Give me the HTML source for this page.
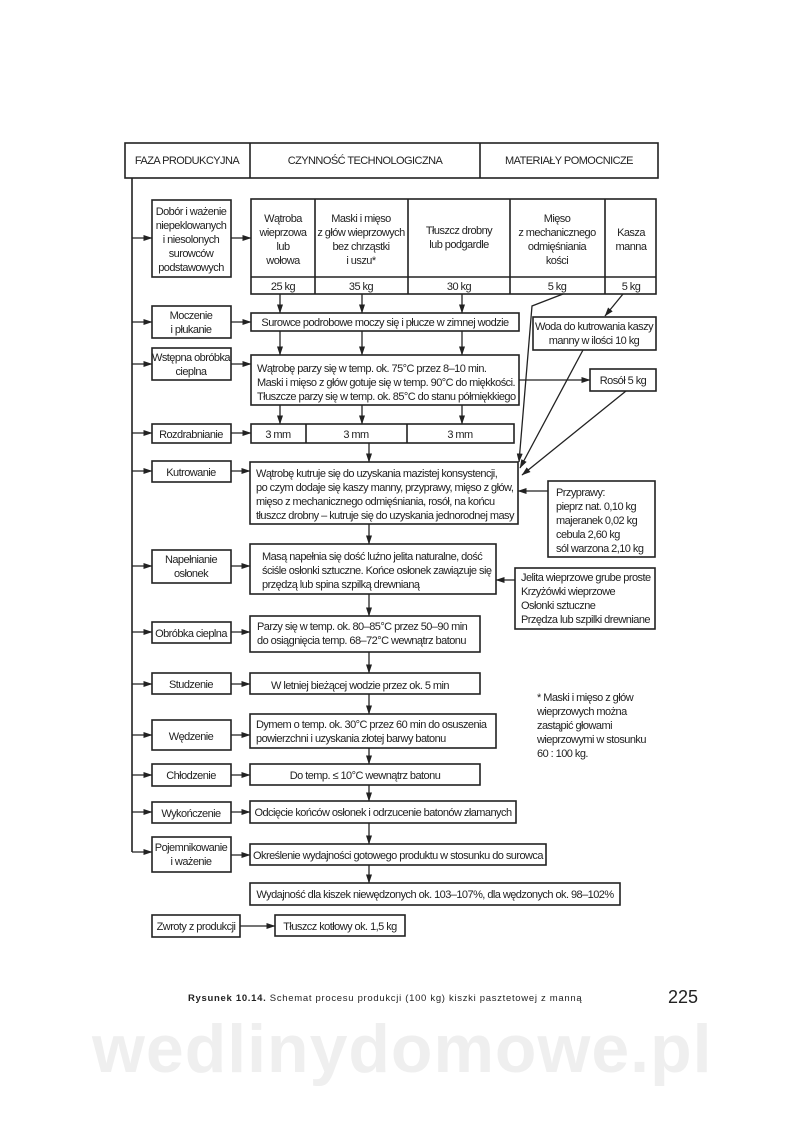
<!DOCTYPE html>
<html><head><meta charset="utf-8"><style>
html,body{margin:0;padding:0;background:#fff}
svg{display:block}
text{font-family:"Liberation Sans",sans-serif;font-size:11px;fill:#222;letter-spacing:-0.55px}
</style></head><body>
<svg width="800" height="1141" viewBox="0 0 800 1141" xmlns="http://www.w3.org/2000/svg">
<defs>
<marker id="a" markerWidth="9" markerHeight="7" refX="8.5" refY="3.5" orient="auto" markerUnits="userSpaceOnUse">
<path d="M0,0.5 L9,3.5 L0,6.5 Z" fill="#222"/></marker>
</defs>
<text x="92" y="1072" style="font-size:68px;font-weight:bold;fill:#efefef;letter-spacing:1px">wedlinydomowe.pl</text>
<g fill="none" stroke="#222" stroke-width="1.6">
<rect x="125" y="143" width="533" height="35"/>
<line x1="250" y1="143" x2="250" y2="178"/><line x1="480" y1="143" x2="480" y2="178"/>
<line x1="132" y1="178" x2="132" y2="852"/>
<rect x="152" y="200" width="79" height="77"/>
<rect x="251" y="199" width="405" height="95"/>
<line x1="251" y1="277" x2="656" y2="277"/>
<line x1="315" y1="199" x2="315" y2="294"/><line x1="408" y1="199" x2="408" y2="294"/>
<line x1="510" y1="199" x2="510" y2="294"/><line x1="605" y1="199" x2="605" y2="294"/>
<rect x="152" y="306" width="79" height="32"/><rect x="251" y="313" width="268" height="18"/>
<rect x="533" y="317" width="123" height="33"/>
<rect x="152" y="348" width="79" height="32"/><rect x="251" y="355" width="268" height="50"/>
<rect x="590" y="369" width="66" height="22"/>
<rect x="152" y="424" width="79" height="19"/><rect x="251" y="424" width="263" height="19"/>
<line x1="306" y1="424" x2="306" y2="443"/><line x1="407" y1="424" x2="407" y2="443"/>
<rect x="152" y="461" width="79" height="21"/><rect x="250" y="462" width="268" height="62"/>
<rect x="548" y="481" width="107" height="76"/>
<rect x="152" y="550" width="79" height="33"/><rect x="250" y="544" width="246" height="50"/>
<rect x="515" y="568" width="140" height="61"/>
<rect x="152" y="622" width="79" height="21"/><rect x="250" y="616" width="230" height="36"/>
<rect x="152" y="673" width="79" height="21"/><rect x="250" y="673" width="230" height="21"/>
<rect x="152" y="720" width="79" height="30"/><rect x="250" y="714" width="246" height="34"/>
<rect x="152" y="764" width="79" height="22"/><rect x="250" y="764" width="230" height="21"/>
<rect x="152" y="802" width="79" height="21"/><rect x="250" y="801" width="266" height="22"/>
<rect x="152" y="837" width="79" height="35"/><rect x="250" y="844" width="296" height="21"/>
<rect x="250" y="883" width="370" height="22"/>
<rect x="152" y="915" width="88" height="22"/><rect x="275" y="915" width="130" height="21"/>
</g>
<g stroke="#222" stroke-width="1.3" fill="none" marker-end="url(#a)">
<line x1="132" y1="238" x2="152" y2="238"/><line x1="231" y1="238" x2="251" y2="238"/>
<line x1="132" y1="322" x2="152" y2="322"/><line x1="231" y1="322" x2="251" y2="322"/>
<line x1="132" y1="364" x2="152" y2="364"/><line x1="231" y1="364" x2="251" y2="364"/>
<line x1="132" y1="433" x2="152" y2="433"/><line x1="231" y1="433" x2="251" y2="433"/>
<line x1="132" y1="471" x2="152" y2="471"/><line x1="231" y1="471" x2="250" y2="471"/>
<line x1="132" y1="566" x2="152" y2="566"/><line x1="231" y1="566" x2="250" y2="566"/>
<line x1="132" y1="632" x2="152" y2="632"/><line x1="231" y1="632" x2="250" y2="632"/>
<line x1="132" y1="684" x2="152" y2="684"/><line x1="231" y1="684" x2="250" y2="684"/>
<line x1="132" y1="735" x2="152" y2="735"/><line x1="231" y1="735" x2="250" y2="735"/>
<line x1="132" y1="775" x2="152" y2="775"/><line x1="231" y1="775" x2="250" y2="775"/>
<line x1="132" y1="812" x2="152" y2="812"/><line x1="231" y1="812" x2="250" y2="812"/>
<line x1="132" y1="852" x2="152" y2="852"/><line x1="231" y1="855" x2="250" y2="855"/>
<line x1="280" y1="294" x2="280" y2="313"/><line x1="362" y1="294" x2="362" y2="313"/><line x1="462" y1="294" x2="462" y2="313"/>
<line x1="280" y1="331" x2="280" y2="355"/><line x1="362" y1="331" x2="362" y2="355"/><line x1="462" y1="331" x2="462" y2="355"/>
<line x1="280" y1="405" x2="280" y2="424"/><line x1="362" y1="405" x2="362" y2="424"/><line x1="462" y1="405" x2="462" y2="424"/>
<line x1="369" y1="443" x2="369" y2="462"/><line x1="369" y1="524" x2="369" y2="544"/>
<line x1="369" y1="594" x2="369" y2="616"/><line x1="369" y1="652" x2="369" y2="673"/>
<line x1="369" y1="694" x2="369" y2="714"/><line x1="369" y1="748" x2="369" y2="764"/>
<line x1="369" y1="785" x2="369" y2="801"/><line x1="369" y1="823" x2="369" y2="844"/>
<line x1="369" y1="865" x2="369" y2="883"/>
<line x1="519" y1="380" x2="590" y2="380"/>
<line x1="548" y1="491" x2="518" y2="491"/>
<line x1="515" y1="580" x2="496" y2="580"/>
<line x1="240" y1="926" x2="275" y2="926"/>
<polyline points="563,294 532,306 519,462"/>
<line x1="623" y1="294" x2="605" y2="316"/>
<line x1="583" y1="350" x2="520" y2="468"/>
<line x1="626" y1="391" x2="522" y2="475"/>
</g>
<g text-anchor="middle">
<text x="187" y="164">FAZA PRODUKCYJNA</text>
<text x="365" y="164">CZYNNOŚĆ TECHNOLOGICZNA</text>
<text x="569" y="164">MATERIAŁY POMOCNICZE</text>
<text x="191" y="215">Dobór i ważenie</text><text x="191" y="229">niepeklowanych</text><text x="191" y="243">i niesolonych</text><text x="191" y="257">surowców</text><text x="191" y="271">podstawowych</text>
<text x="283" y="222">Wątroba</text><text x="283" y="236">wieprzowa</text><text x="283" y="250">lub</text><text x="283" y="264">wołowa</text>
<text x="361" y="222">Maski i mięso</text><text x="361" y="236">z głów wieprzowych</text><text x="361" y="250">bez chrząstki</text><text x="361" y="264">i uszu*</text>
<text x="459" y="234">Tłuszcz drobny</text><text x="459" y="248">lub podgardle</text>
<text x="557" y="222">Mięso</text><text x="557" y="236">z mechanicznego</text><text x="557" y="250">odmięśniania</text><text x="557" y="264">kości</text>
<text x="631" y="236">Kasza</text><text x="631" y="250">manna</text>
<text x="283" y="290">25 kg</text><text x="361" y="290">35 kg</text><text x="459" y="290">30 kg</text><text x="557" y="290">5 kg</text><text x="631" y="290">5 kg</text>
<text x="191" y="319">Moczenie</text><text x="191" y="333">i płukanie</text>
<text x="385" y="326">Surowce podrobowe moczy się i płucze w zimnej wodzie</text>
<text x="594" y="330">Woda do kutrowania kaszy</text><text x="594" y="344">manny w ilości 10 kg</text>
<text x="191" y="361">Wstępna obróbka</text><text x="191" y="375">cieplna</text>
<text x="623" y="384">Rosół 5 kg</text>
<text x="191" y="438">Rozdrabnianie</text>
<text x="278" y="438">3 mm</text><text x="356" y="438">3 mm</text><text x="460" y="438">3 mm</text>
<text x="191" y="476">Kutrowanie</text>
<text x="191" y="563">Napełnianie</text><text x="191" y="577">osłonek</text>
<text x="191" y="637">Obróbka cieplna</text>
<text x="191" y="688">Studzenie</text>
<text x="191" y="740">Wędzenie</text>
<text x="191" y="779">Chłodzenie</text>
<text x="191" y="817">Wykończenie</text>
<text x="191" y="851">Pojemnikowanie</text><text x="191" y="865">i ważenie</text>
<text x="196" y="930">Zwroty z produkcji</text>
<text x="360" y="689">W letniej bieżącej wodzie przez ok. 5 min</text>
<text x="365" y="779">Do temp. ≤ 10°C wewnątrz batonu</text>
<text x="383" y="816">Odcięcie końców osłonek i odrzucenie batonów złamanych</text>
<text x="398" y="859">Określenie wydajności gotowego produktu w stosunku do surowca</text>
<text x="435" y="898">Wydajność dla kiszek niewędzonych ok. 103–107%, dla wędzonych ok. 98–102%</text>
<text x="340" y="930">Tłuszcz kotłowy ok. 1,5 kg</text>
</g>
<text x="257" y="372">Wątrobę parzy się w temp. ok. 75°C przez 8–10 min.</text>
<text x="257" y="386">Maski i mięso z głów gotuje się w temp. 90°C do miękkości.</text>
<text x="257" y="400">Tłuszcze parzy się w temp. ok. 85°C do stanu półmiękkiego</text>
<text x="256" y="477">Wątrobę kutruje się do uzyskania mazistej konsystencji,</text>
<text x="256" y="491">po czym dodaje się kaszy manny, przyprawy, mięso z głów,</text>
<text x="256" y="505">mięso z mechanicznego odmięśniania, rosół, na końcu</text>
<text x="256" y="519">tłuszcz drobny – kutruje się do uzyskania jednorodnej masy</text>
<text x="556" y="496">Przyprawy:</text><text x="556" y="510">pieprz nat. 0,10 kg</text><text x="556" y="524">majeranek  0,02 kg</text><text x="556" y="538">cebula 2,60 kg</text><text x="556" y="552">sól warzona 2,10 kg</text>
<text x="262" y="560">Masą napełnia się dość luźno jelita naturalne, dość</text>
<text x="262" y="574">ściśle osłonki sztuczne. Końce osłonek zawiązuje się</text>
<text x="262" y="588">przędzą lub spina szpilką drewnianą</text>
<text x="521" y="581">Jelita wieprzowe grube proste</text><text x="521" y="595">Krzyżówki wieprzowe</text><text x="521" y="609">Osłonki sztuczne</text><text x="521" y="623">Przędza lub szpilki drewniane</text>
<text x="257" y="630">Parzy się w temp. ok. 80–85°C przez 50–90 min</text>
<text x="257" y="644">do osiągnięcia temp. 68–72°C wewnątrz batonu</text>
<text x="256" y="728">Dymem o temp. ok. 30°C przez 60 min do osuszenia</text>
<text x="256" y="742">powierzchni i uzyskania złotej barwy batonu</text>
<text x="537" y="701">* Maski i mięso z głów</text><text x="537" y="715">wieprzowych można</text><text x="537" y="729">zastąpić głowami</text><text x="537" y="743">wieprzowymi w stosunku</text><text x="537" y="757">60 : 100 kg.</text>
<text x="188" y="1001" style="font-size:9.5px;font-weight:bold;letter-spacing:0.7px">Rysunek 10.14. <tspan style="font-weight:normal">Schemat procesu produkcji (100 kg) kiszki pasztetowej z manną</tspan></text>
<text x="668" y="1003" style="font-size:18px;letter-spacing:0">225</text>
</svg>
</body></html>
